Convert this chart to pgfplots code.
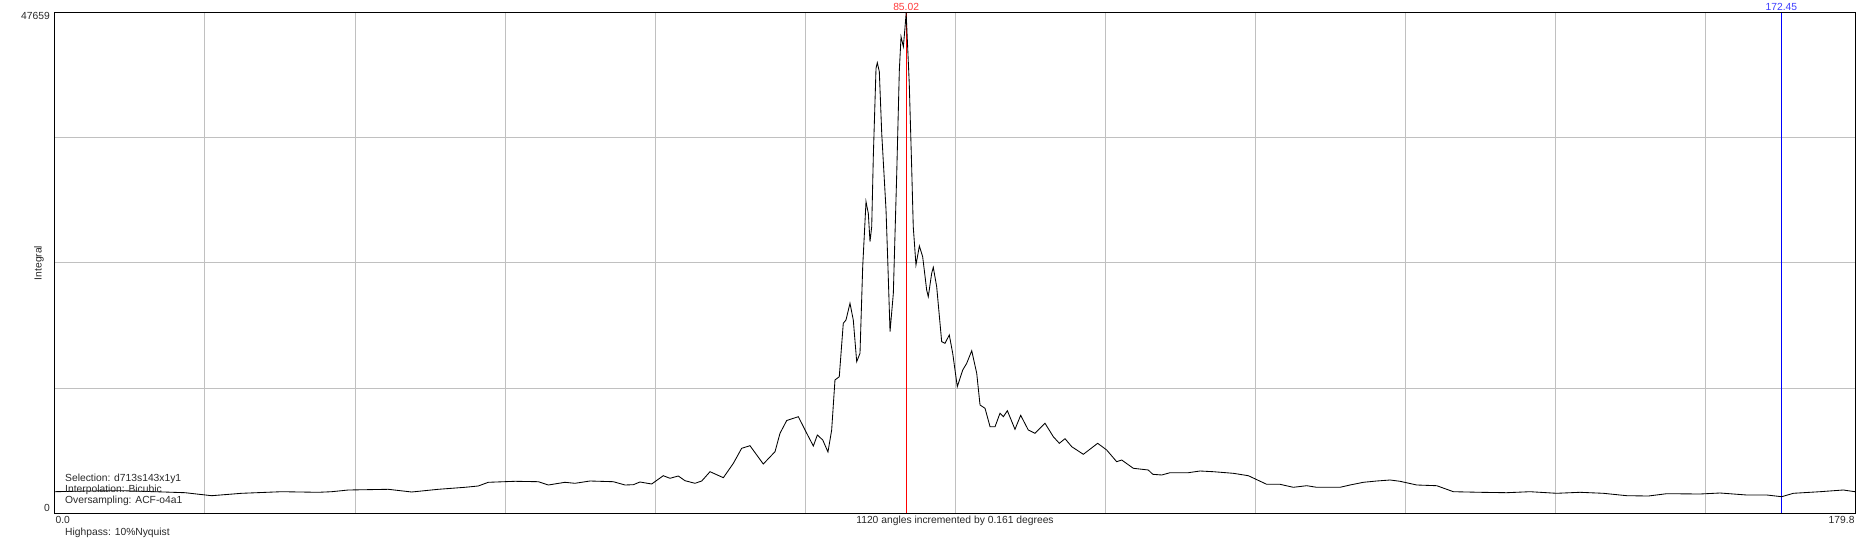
\documentclass[border=0pt]{standalone}
\usepackage{fontspec}
\setmainfont{Liberation Sans}
\usepackage{pgfplots}
\pgfplotsset{compat=1.18}
\definecolor{gridgray}{RGB}{192,192,192}
\definecolor{txt}{RGB}{40,40,40}
\definecolor{lblred}{RGB}{255,60,60}
\definecolor{lblblue}{RGB}{60,60,255}
\begin{document}
\begin{tikzpicture}[font=\fontsize{10.3}{12}\selectfont]
\begin{axis}[
  width=1800pt, height=500pt, scale only axis,
  xmin=0, xmax=179.8, ymin=0, ymax=47659,
  clip=false,
  scaled x ticks=false, scaled y ticks=false,
  axis line style={black, line width=1pt},
  major tick length=0pt, minor tick length=0pt,
  /pgf/number format/assume math mode=true,
  tick label style={text=txt},
  xtick={0}, xticklabels={0.0},
  xticklabel style={anchor=north west, xshift=-3pt},
  extra x ticks={179.8}, extra x tick labels={179.8},
  extra x tick style={xticklabel style={anchor=north east, xshift=6pt}},
  ytick={0}, yticklabels={0},
  yticklabel style={anchor=east, xshift=-1.6pt, yshift=5pt},
  extra y ticks={47659}, extra y tick labels={47659},
  extra y tick style={yticklabel style={anchor=east, yshift=-7.7pt}},
  minor xtick={14.983,29.967,44.95,59.933,74.917,89.9,104.883,119.867,134.85,149.833,164.817},
  minor ytick={11914.75,23829.5,35744.25},
  xminorgrids, yminorgrids,
  minor grid style={draw=gridgray, line width=1pt},
  xlabel={1120 angles incremented by 0.161 degrees},
  xlabel style={at={(axis description cs:0.5,0)}, anchor=north, text=txt},
  ylabel={Integral},
  ylabel style={at={(axis description cs:-0.00889,0.5)}, anchor=center, text=txt},
]
\addplot[red, line width=1pt] coordinates {(85.02,0) (85.02,47659)};
\addplot[blue, line width=1pt] coordinates {(172.45,0) (172.45,47659)};
\addplot[black, line width=0.85pt] coordinates {
(0,2030) (3.33,2097) (6.66,2126) (9.99,2030) (12.99,1935) (15.65,1649) (18.65,1878)
(22.65,2030) (26.30,1973) (27.64,2030) (29.30,2192) (33.29,2259) (35.63,2002) (38.29,2259)
(40.95,2450) (42.28,2574) (43.28,2926) (45.95,3022) (48.28,2983) (49.28,2669) (50.94,2926)
(51.94,2831) (53.44,3050) (55.77,2983) (56.94,2669) (57.77,2698) (58.43,2955) (59.60,2764)
(60.76,3555) (61.43,3308) (62.26,3527) (62.93,3079) (63.93,2831) (64.60,3050) (65.43,3937)
(66.76,3365) (67.76,4737) (68.59,6167) (69.42,6415) (70.75,4671) (71.92,5843) (72.42,7597)
(73.09,8817) (74.25,9179) (75.09,7597) (75.75,6386) (76.15,7435) (76.69,6958) (77.21,5814)
(77.58,7911) (77.91,12678) (78.34,12992) (78.74,18082) (79.01,18397) (79.41,19989) (79.74,18397)
(80.08,14422) (80.41,15223) (80.68,23477) (81.01,29673) (81.24,28567) (81.41,25860) (81.58,27290)
(81.74,33963) (82.01,42389) (82.14,42923) (82.34,42065) (82.58,36193) (83.01,28882) (83.18,24116)
(83.41,17281) (83.74,20942) (84.08,32380) (84.34,42227) (84.51,45401) (84.74,44448) (84.90,46202)
(85.02,47659) (85.33,40959) (85.57,33010) (85.73,27290) (86.00,23639) (86.34,25450) (86.67,24430)
(87.07,21256) (87.23,20618) (87.57,22848) (87.73,23420) (88.07,21571) (88.57,16328) (88.90,16176)
(89.33,16967) (89.67,15223) (90.13,12039) (90.67,13631) (91.07,14269) (91.57,15470) (92.07,13316)
(92.40,10294) (92.90,9980) (93.40,8226) (93.90,8226) (94.39,9503) (94.73,9179) (95.13,9751)
(95.89,7978) (96.46,9313) (97.22,7911) (97.89,7597) (98.89,8550) (99.72,7273) (100.32,6644)
(100.89,7082) (101.56,6320) (102.72,5595) (104.15,6644) (105.05,6005) (106.05,4890) (106.55,5052)
(107.71,4261) (109.21,4099) (109.65,3689) (110.55,3622) (111.38,3841) (113.21,3841) (114.37,4003)
(115.70,3937) (117.70,3784) (119.20,3555) (121.03,2736) (122.36,2736) (123.69,2450) (125.03,2602)
(126.03,2450) (128.36,2450) (129.36,2669) (130.69,2926) (132.02,3050) (133.36,3145) (134.35,3022)
(136.02,2669) (138.02,2602) (139.68,2030) (142.35,1973) (145.01,1935) (147.34,2030) (150.00,1878)
(152.33,1973) (154.66,1878) (157.00,1649) (159.16,1620) (160.99,1840) (164.32,1811) (166.32,1906)
(168.98,1716) (170.98,1716) (172.48,1554) (173.64,1878) (176.30,2030) (178.63,2192) (179.80,2030)
};
\node[text=lblred, anchor=south, inner sep=0pt, yshift=2.6pt] at (axis cs:85.02,47659) {85.02};
\node[text=lblblue, anchor=south, inner sep=0pt, yshift=2.6pt] at (axis cs:172.45,47659) {172.45};
\node[text=txt, anchor=west, inner sep=0pt] at (axis description cs:0.00556,0.068) {Selection: d713s143x1y1};
\node[text=txt, anchor=west, inner sep=0pt] at (axis description cs:0.00556,0.046) {Interpolation: Bicubic};
\node[text=txt, anchor=west, inner sep=0pt] at (axis description cs:0.00556,0.024) {Oversampling: ACF-o4a1};
\node[text=txt, anchor=west, inner sep=0pt] at (axis description cs:0.00556,-0.04) {Highpass: 10\%Nyquist};
\coordinate (ll) at (rel axis cs:0,0);
\coordinate (ur) at (rel axis cs:1,1);
\end{axis}
\path ([xshift=-55pt,yshift=-34pt]ll) rectangle ([xshift=15pt,yshift=13pt]ur);
\end{tikzpicture}
\end{document}
